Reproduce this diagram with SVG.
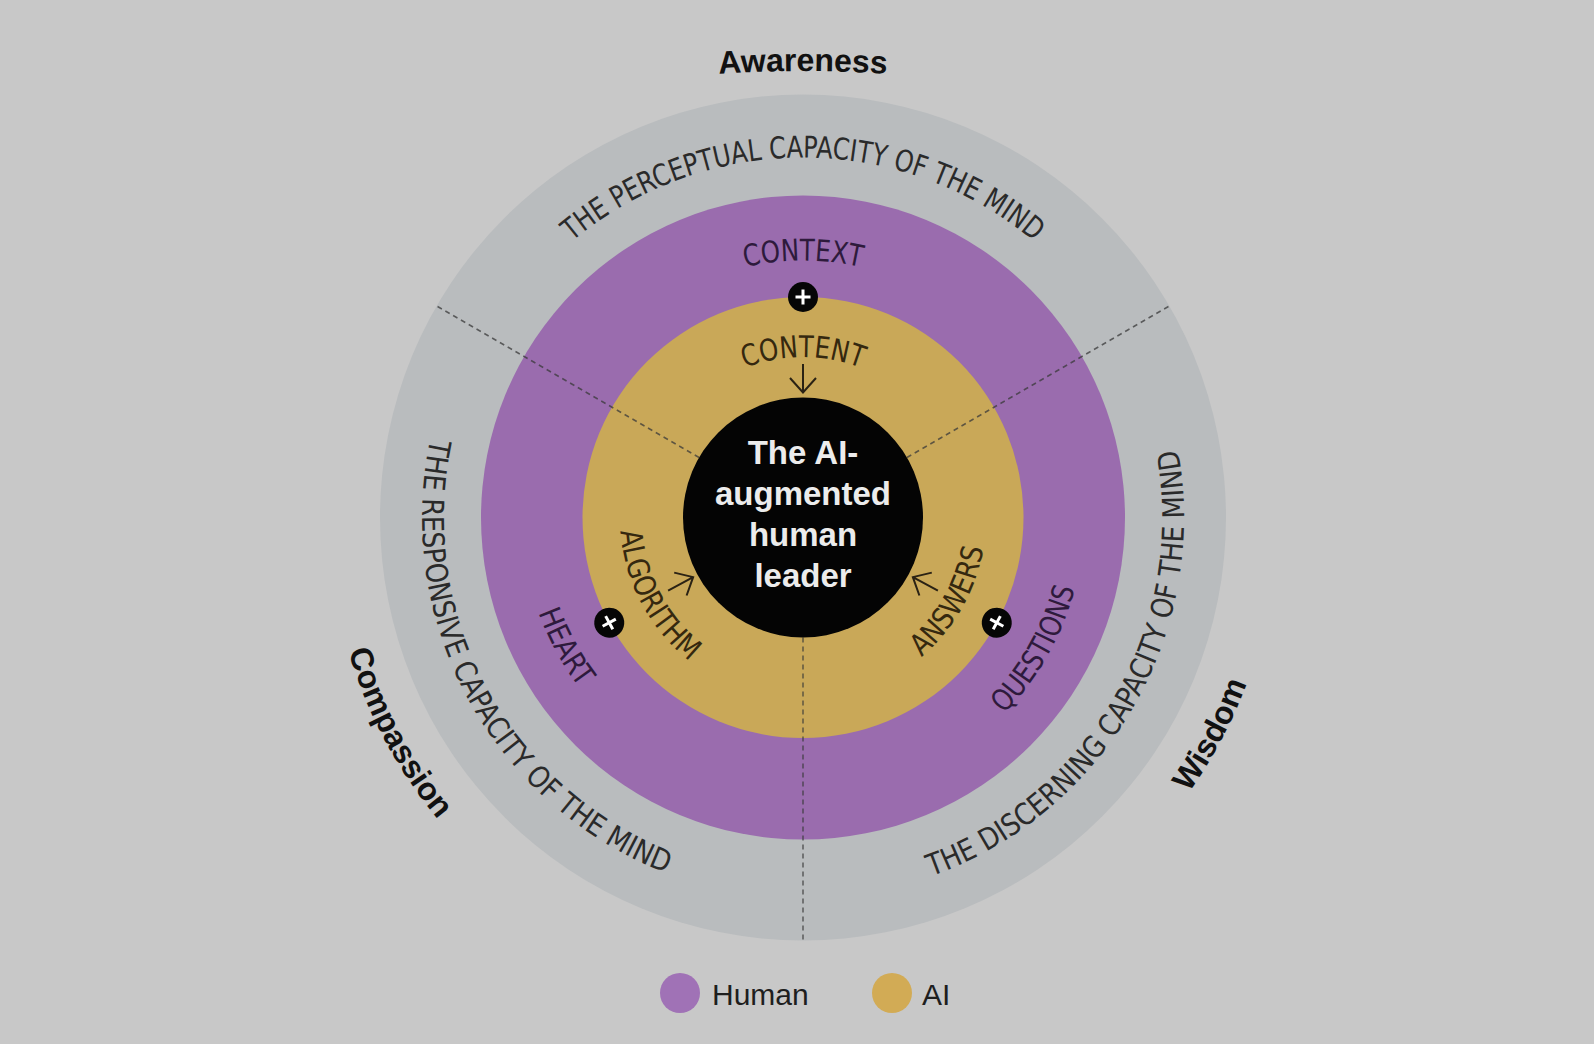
<svg xmlns="http://www.w3.org/2000/svg" width="1594" height="1044" viewBox="0 0 1594 1044">
<style>
.ring{font-family:'Liberation Sans Narrow','DejaVu Sans Condensed','Roboto Condensed',Roboto,sans-serif;font-size:30px;font-stretch:condensed}
.tg{fill:#2a2a2a}
.tp{fill:#2e1a3c}
.ty{fill:#35280f}
.big{font-family:'Liberation Sans',Arial,sans-serif;font-weight:bold;font-size:32px;fill:#111111}
.ctr{font-family:'Liberation Sans',Arial,sans-serif;font-weight:bold;font-size:33px;fill:#ececec;text-anchor:middle}
.leg{font-family:'Liberation Sans',Arial,sans-serif;font-size:30px;fill:#1e1e1e}
.div{stroke:#3a3a3a;stroke-opacity:0.75;stroke-width:1.5;stroke-dasharray:5 4;fill:none}
</style>
<defs>
<path id="awarc" d="M503 108.1A1233 1233 0 0 1 1103 108.1"/>
<path id="cw360" d="M-360 0A360 360 0 0 1 360 0"/>
<path id="cw258" d="M-257 0A257 257 0 0 1 257 0"/>
<path id="cw160" d="M-160.5 0A160.5 160.5 0 0 1 160.5 0"/>
<path id="ccw474" d="M-474 0A474 474 0 0 0 474 0"/>
<path id="ccw381" d="M-381 0A381 381 0 0 0 381 0"/>
<path id="ccw281" d="M-281 0A281 281 0 0 0 281 0"/>
<path id="ccw183" d="M-183 0A183 183 0 0 0 183 0"/>
<g id="plus"><circle r="15" fill="#060606"/><path d="M-7.5 0H7.5M0-7.5V7.5" stroke="#ffffff" stroke-width="3"/></g>
<path id="arrow" d="M0-153.5V-125M-13-139.5L0-125L13-139.5" fill="none" stroke="#2a2214" stroke-width="2"/>
</defs>
<rect width="1594" height="1044" fill="#c8c8c8"/>
<g id="awareness"><text class="big"><textPath href="#awarc" startOffset="50%" text-anchor="middle">Awareness</textPath></text></g>
<g transform="translate(803,517.5)">
  <g id="ring-mind"><circle r="423" fill="#b9bcbe"/></g>
  <g id="ring-human"><circle r="322" fill="#9a6cae"/></g>
  <g id="ring-ai"><circle r="220.5" fill="#c9a858"/></g>
  <g id="connectors">
    <path class="div" d="M0 120V423"/>
    <path class="div" d="M-103.92 -60L-366.33 -211.5"/>
    <path class="div" d="M103.92 -60L366.33 -211.5"/>
    <use href="#arrow"/>
    <use href="#arrow" transform="rotate(241.5)"/>
    <use href="#arrow" transform="rotate(118.5)"/>
  </g>
  <g id="leader">
    <circle r="120" fill="#040404"/>
    <text class="ctr" y="-53.5">The AI-</text>
    <text class="ctr" y="-12.5">augmented</text>
    <text class="ctr" y="28.5">human</text>
    <text class="ctr" y="69.5">leader</text>
  </g>
  <g id="markers">
    <use href="#plus" y="-220.5"/>
    <use href="#plus" y="-220.5" transform="rotate(241.5)"/>
    <use href="#plus" y="-220.5" transform="rotate(118.5)"/>
  </g>
  <g id="compassion"><text class="big" transform="rotate(62)"><textPath href="#ccw474" startOffset="50%" text-anchor="middle">Compassion</textPath></text></g>
  <g id="wisdom"><text class="big" transform="rotate(-62)"><textPath href="#ccw474" startOffset="50%" text-anchor="middle">Wisdom</textPath></text></g>
  <g id="perceptual"><text class="ring tg"><textPath href="#cw360" startOffset="50%" text-anchor="middle" textLength="502" lengthAdjust="spacingAndGlyphs">THE PERCEPTUAL CAPACITY OF THE MIND</textPath></text></g>
  <g id="responsive"><text class="ring tg" transform="rotate(61.5)"><textPath href="#ccw381" startOffset="50%" text-anchor="middle" textLength="538" lengthAdjust="spacingAndGlyphs">THE RESPONSIVE CAPACITY OF THE MIND</textPath></text></g>
  <g id="discerning"><text class="ring tg" transform="rotate(-60)"><textPath href="#ccw381" startOffset="50%" text-anchor="middle" textLength="536" lengthAdjust="spacingAndGlyphs">THE DISCERNING CAPACITY OF THE MIND</textPath></text></g>
  <g id="context"><text class="ring tp"><textPath href="#cw258" startOffset="50%" text-anchor="middle" textLength="117" lengthAdjust="spacingAndGlyphs">CONTEXT</textPath></text></g>
  <g id="heart"><text class="ring tp" transform="rotate(61.5)"><textPath href="#ccw281" startOffset="50%" text-anchor="middle" textLength="86" lengthAdjust="spacingAndGlyphs">HEART</textPath></text></g>
  <g id="questions"><text class="ring tp" transform="rotate(-60.5)"><textPath href="#ccw281" startOffset="50%" text-anchor="middle" textLength="146" lengthAdjust="spacingAndGlyphs">QUESTIONS</textPath></text></g>
  <g id="content"><text class="ring ty"><textPath href="#cw160" startOffset="50%" text-anchor="middle" textLength="119" lengthAdjust="spacingAndGlyphs">CONTENT</textPath></text></g>
  <g id="algorithm"><text class="ring ty" transform="rotate(62)"><textPath href="#ccw183" startOffset="50%" text-anchor="middle" textLength="152" lengthAdjust="spacingAndGlyphs">ALGORITHM</textPath></text></g>
  <g id="answers"><text class="ring ty" transform="rotate(-60.3)"><textPath href="#ccw183" startOffset="50%" text-anchor="middle" textLength="128" lengthAdjust="spacingAndGlyphs">ANSWERS</textPath></text></g>
</g>
<g id="legend">
  <g id="legend-human"><circle cx="680" cy="993" r="20" fill="#a072b6"/><text class="leg" x="712" y="1005">Human</text></g>
  <g id="legend-ai"><circle cx="892" cy="993" r="20" fill="#d2ab55"/><text class="leg" x="922" y="1005">AI</text></g>
</g>
</svg>
